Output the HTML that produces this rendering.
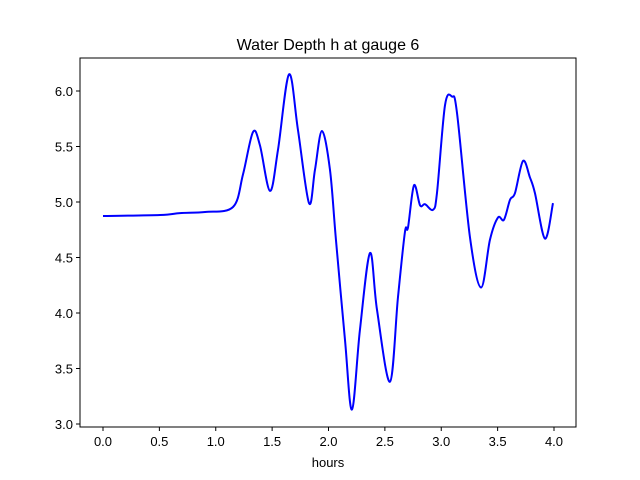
<!DOCTYPE html>
<html><head><meta charset="utf-8"><style>body{margin:0;background:#fff}svg{display:block;font-family:"Liberation Sans","DejaVu Sans",sans-serif}</style></head>
<body>
<svg id="chart" width="640" height="480">
<rect width="640" height="480" fill="#fff"/>
<text x="328" y="50" text-anchor="middle" font-size="16">Water Depth h at gauge 6</text>
<g id="axes"></g>
<path id="line" fill="none" stroke="#0000ff" stroke-width="2"/>
<rect x="80" y="58" width="496" height="369" fill="none" stroke="#000" stroke-width="1"/>
<text x="328" y="467" text-anchor="middle" font-size="13">hours</text>
</svg>
<script>
const hours=[0,0.506,0.683,0.905,1.153,1.242,1.330,1.392,1.481,1.552,1.650,1.729,1.827,1.880,1.942,2.013,2.066,2.146,2.208,2.279,2.368,2.430,2.545,2.616,2.678,2.705,2.758,2.812,2.856,2.927,2.962,3.033,3.095,3.140,3.255,3.353,3.432,3.503,3.556,3.610,3.654,3.725,3.787,3.831,3.920,3.991];
const depth=[4.874,4.883,4.90,4.91,4.955,5.25,5.63,5.51,5.10,5.47,6.15,5.65,4.99,5.29,5.64,5.29,4.66,3.76,3.13,3.85,4.54,4.03,3.38,4.14,4.73,4.77,5.15,4.97,4.98,4.93,5.08,5.87,5.95,5.80,4.68,4.23,4.66,4.86,4.84,5.02,5.08,5.37,5.22,5.08,4.67,4.99];
const xTicks=[0,0.5,1,1.5,2,2.5,3,3.5,4];
const yTicks=[3.0,3.5,4.0,4.5,5.0,5.5,6.0];
const NS="http://www.w3.org/2000/svg";
function sx(v){return 103+v*112.75;}
function sy(v){return 202-(v-5)*111;}
const ax=document.getElementById('axes');
function mk(t,a){const e=document.createElementNS(NS,t);for(const k in a)e.setAttribute(k,a[k]);return e;}
xTicks.forEach(t=>{
 const l=mk('line',{x1:sx(t),x2:sx(t),y1:427,y2:431,stroke:'#000'});
 
 
 ax.appendChild(l);
 const tx=mk('text',{x:sx(t),y:446,'text-anchor':'middle','font-size':'13'});
 
 
 tx.textContent=t.toFixed(1);ax.appendChild(tx);
});
yTicks.forEach(t=>{
 const l=mk('line',{x1:76,x2:80,y1:sy(t),y2:sy(t),stroke:'#000'});
 
 
 ax.appendChild(l);
 const tx=mk('text',{x:73,y:sy(t)+5,'text-anchor':'end','font-size':'13'});
 
 
 tx.textContent=t.toFixed(1);ax.appendChild(tx);
});
const P=hours.map((h,i)=>[sx(h),sy(depth[i])]);
let d='M'+P[0][0]+','+P[0][1];
for(let i=0;i<P.length-1;i++){
 const p0=P[Math.max(0,i-1)],p1=P[i],p2=P[i+1],p3=P[Math.min(P.length-1,i+2)];
 const c1=[p1[0]+(p2[0]-p0[0])/6,p1[1]+(p2[1]-p0[1])/6];
 const c2=[p2[0]-(p3[0]-p1[0])/6,p2[1]-(p3[1]-p1[1])/6];
 d+=' C'+c1[0]+','+c1[1]+' '+c2[0]+','+c2[1]+' '+p2[0]+','+p2[1];
}
document.getElementById('line').setAttribute('d',d);
</script>
</body></html>
